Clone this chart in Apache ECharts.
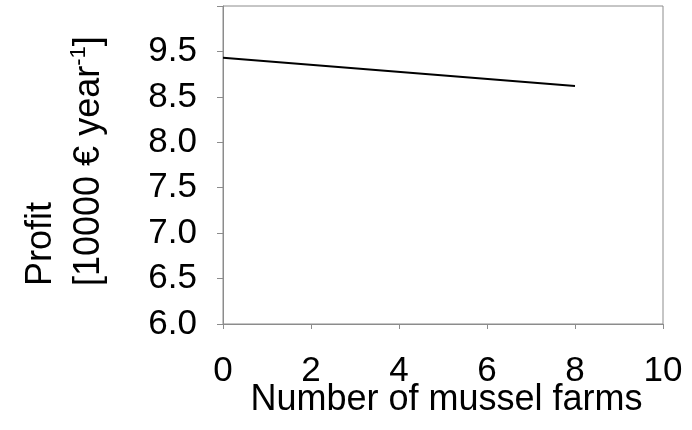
<!DOCTYPE html>
<html><head><meta charset="utf-8">
<script src="https://cdn.jsdelivr.net/npm/echarts@6/dist/echarts.min.js"></script>
<style>html,body{margin:0;padding:0;background:#fff}#c{width:692px;height:430px}</style>
</head><body><div id="c"></div>
<script>
const farms = [0, 8];
const profit = [8.93, 8.62];
const yTickLabels = ["6.0","6.5","7.0","7.5","8.0","8.5","9.5",""];
const xTickLabels = ["0","2","4","6","8","10"];
const xTitle = "Number of mussel farms";
const FONT = "Liberation Sans";
const chart = echarts.init(document.getElementById('c'), null, {renderer:'canvas'});
chart.setOption({
  backgroundColor:'#fff',
  animation:false,
  grid:{left:223,right:29,top:6,bottom:106,show:true,borderColor:'#8c8c8c',borderWidth:1,backgroundColor:'transparent'},
  xAxis:{type:'value',min:0,max:10,interval:2,
    axisLine:{show:true,onZero:false,lineStyle:{color:'#8c8c8c',width:1}},
    axisTick:{show:true,length:5,inside:false,lineStyle:{color:'#8c8c8c'}},
    splitLine:{show:false},
    axisLabel:{margin:30,color:'#000',fontFamily:FONT,fontSize:35,formatter:(v,i)=>xTickLabels[i]},
    name:xTitle,nameLocation:'middle',nameGap:58,nameMoveOverlap:false,
    nameTextStyle:{color:'#000',fontFamily:FONT,fontSize:36,padding:[0,0,0,7]}},
  yAxis:{type:'value',min:6,max:9.5,interval:0.5,
    axisLine:{show:true,onZero:false,lineStyle:{color:'#8c8c8c',width:1}},
    axisTick:{show:true,length:6,inside:false,lineStyle:{color:'#8c8c8c'}},
    splitLine:{show:false},
    axisLabel:{margin:26,color:'#000',fontFamily:FONT,fontSize:35,formatter:(v,i)=>yTickLabels[i]}},
  graphic:[{type:'text',x:65,y:286,rotation:Math.PI/2,
    style:{text:'{a|Profit}\n{a|[10000 € year}{s|-1}{a|]}',align:'left',verticalAlign:'middle',
      fill:'#000',font:'36px "Liberation Sans"',
      rich:{a:{fontFamily:FONT,fontSize:36,lineHeight:48,fill:'#000',color:'#000'},
            s:{fontFamily:FONT,fontSize:22,lineHeight:48,color:'#000',fill:'#000',padding:[0,0,20,0]}}}}],
  series:[{type:'line',data:farms.map((f,i)=>[f,profit[i]]),showSymbol:false,
    lineStyle:{color:'#000',width:2},itemStyle:{color:'#000'}}]
});
</script></body></html>
